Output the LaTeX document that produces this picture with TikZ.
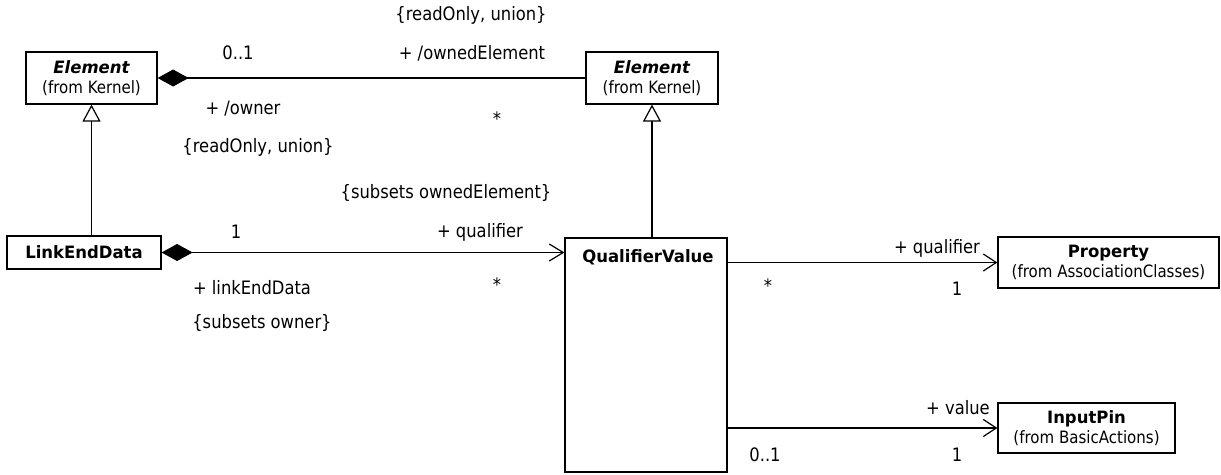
\documentclass[tikz,border=0pt]{standalone}
\usepackage{fontspec}
\setmainfont{DejaVu Sans}[FakeStretch=0.884]
\newfontfamily\bfam{DejaVu Sans}[FakeStretch=0.97]
\usetikzlibrary{arrows.meta}
\newcommand{\lblf}{\fontsize{18.5}{22}\selectfont}
\newcommand{\subf}{\fontsize{17}{20}\selectfont}
\newcommand{\ttlf}{\bfam\bfseries\fontsize{17}{20}\selectfont}
\tikzset{
  cls/.style={draw, line width=1.2pt, inner sep=0pt, align=center, font=\subf},
  lbl/.style={inner sep=0pt, font=\lblf},
  comp/.style={line width=1.2pt, {Diamond[length=31pt,width=17pt]}-},
  compnav/.style={line width=1.2pt, {Diamond[length=31pt,width=17pt]}-{Straight Barb[length=14pt,width=17pt,line width=1.2pt]}},
  nav/.style={line width=1.2pt, -{Straight Barb[length=13pt,width=17pt,line width=1.2pt]}},
  gen/.style={line width=1.2pt, -{Triangle[open,length=17pt,width=18pt,fill=white]}}
}
\begin{document}
\begin{tikzpicture}[x=1pt,y=-1pt]
\useasboundingbox (0,0) rectangle (1221,474);
% classes
\node[cls, minimum width=131pt, minimum height=52pt] (e1) at (91.5,78) {{\ttlf\itshape Element}\\(from Kernel)};
\node[cls, minimum width=132pt, minimum height=52pt] (e2) at (652,78) {{\ttlf\itshape Element}\\(from Kernel)};
\node[cls, minimum width=154pt, minimum height=33pt, font=\ttlf] (led) at (84,252.5) {LinkEndData};
\node[cls, minimum width=162pt, minimum height=234pt] (qv) at (646,355) {};
\node[inner sep=0pt, font=\ttlf] (qvt) at (648,257) {QualifierValue};
\node[cls, minimum width=221pt, minimum height=51pt] (prop) at (1108.5,262.5) {{\ttlf Property}\\(from AssociationClasses)};
\node[cls, minimum width=177pt, minimum height=50pt] (ip) at (1086.5,428) {{\ttlf InputPin}\\(from BasicActions)};
% connectors
\draw[comp] (e1.east) -- (e2.west);
\draw[gen] (e1.south |- led.north) -- (e1.south);
\draw[gen] (e2.south |- qv.north) -- (e2.south);
\draw[compnav] (led.east) -- (led.east -| qv.west);
\draw[nav] (qv.east |- prop.west) -- (prop.west);
\draw[nav] (qv.east |- ip.west) -- (ip.west);
% labels
\node[lbl] (l1) at (471,15) {\{readOnly, union\}};
\node[lbl] (l2) at (238,53) {0..1};
\node[lbl] (l3) at (472,53) {+ /ownedElement};
\node[lbl] (l4) at (243,109) {+ /owner};
\node[lbl] (l5) at (258,147) {\{readOnly, union\}};
\node[lbl] (l6) at (497,119) {*};
\node[lbl] (l7) at (446,193) {\{subsets ownedElement\}};
\node[lbl] (l8) at (236,232) {1};
\node[lbl] (l9) at (480,232) {+ qualifier};
\node[lbl] (l10) at (252,288) {+ linkEndData};
\node[lbl] (l11) at (497,285) {*};
\node[lbl] (l12) at (262,323) {\{subsets owner\}};
\node[lbl] (l13) at (937,248) {+ qualifier};
\node[lbl] (l14) at (768,286) {*};
\node[lbl] (l15) at (957,289) {1};
\node[lbl] (l16) at (958,408) {+ value};
\node[lbl] (l17) at (765,455) {0..1};
\node[lbl] (l18) at (957,455) {1};
\end{tikzpicture}
\end{document}
